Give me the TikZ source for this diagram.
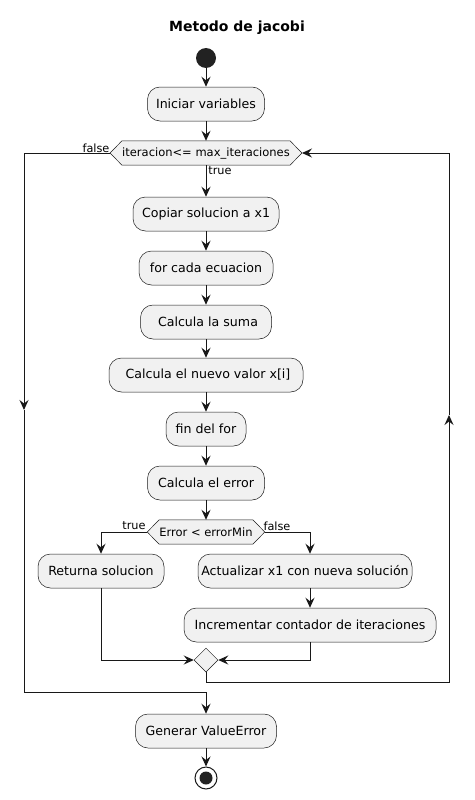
\documentclass[tikz,border=0pt]{standalone}
\usepackage{fontspec}
\setmainfont{DejaVu Sans}
\usetikzlibrary{arrows.meta,shapes.geometric}
\pgfdeclarelayer{bg}
\pgfsetlayers{bg,main}
\definecolor{boxfill}{HTML}{F1F1F1}
\definecolor{ink}{HTML}{181818}
\definecolor{dot}{HTML}{222222}
\begin{document}
\begin{tikzpicture}[x=1pt,y=-1pt,
 act/.style={draw=ink, line width=0.5pt, fill=boxfill, rounded corners=12.5pt, minimum height=34pt, inner sep=0pt, font=\fontsize{12.6}{14}\selectfont},
 dec/.style={inner sep=0pt, minimum height=24pt, font=\fontsize{11.5}{13}\selectfont},
 hex/.style={draw=ink, line width=0.5pt, fill=boxfill},
 flow/.style={draw=ink, line width=1pt, -{Stealth[length=10pt,width=9pt,inset=3.5pt]}},
 lbl/.style={font=\fontsize{11.3}{13}\selectfont, inner sep=0pt}]
\useasboundingbox (0,0) rectangle (474,800);
\node[font=\bfseries\fontsize{14}{16}\selectfont] (title) at (237,28) {Metodo de jacobi};
\node[circle, fill=dot, minimum size=20pt, inner sep=0pt] (start) at (206,58) {};
\node[act, minimum width=117pt] (init) at (206,104) {Iniciar variables};
\node[dec, minimum width=164pt] (loopd) at (206,153) {iteracion<= max\_iteraciones};
\node[act, minimum width=146pt] (copy) at (206,214) {Copiar solucion a x1};
\node[act, minimum width=134pt] (forc) at (206,268) {for cada ecuacion};
\node[act, minimum width=131pt] (suma) at (206,322) {\ Calcula la suma};
\node[act, minimum width=194pt] (nuevo) at (206,375) {\ Calcula el nuevo valor x[i]};
\node[act, minimum width=80pt] (fin) at (206,429) {fin del for};
\node[act, minimum width=117pt] (err) at (206,483) {Calcula el error};
\node[dec, minimum width=93pt] (errd) at (206,532) {Error < errorMin};
\node[act, minimum width=126pt] (ret) at (101,571) {Returna solucion};
\node[act, minimum width=214pt] (actu) at (305,571) {Actualizar x1 con nueva solución};
\node[act, minimum width=252pt] (inc) at (310,625) {Incrementar contador de iteraciones};
\node[diamond, draw=ink, line width=0.5pt, fill=boxfill, minimum width=24pt, minimum height=24pt, inner sep=0pt] (merge) at (206,660) {};
\node[act, minimum width=141pt] (gen) at (206,731) {Generar ValueError};
\node[circle, draw=ink, line width=1pt, fill=white, minimum size=22pt, inner sep=0pt] (stop) at (206,778) {};
\node[circle, fill=dot, minimum size=13pt, inner sep=0pt] (stopin) at (206,778) {};
\coordinate (loopL) at ([xshift=-12pt]loopd.west);
\coordinate (loopR) at ([xshift=12pt]loopd.east);
\coordinate (errL) at ([xshift=-12pt]errd.west);
\coordinate (errR) at ([xshift=12pt]errd.east);
\coordinate (lmid) at (24,410);
\coordinate (rmid) at (449,415);
\coordinate (lbot) at (24,692);
\coordinate (rbot) at (449,682);
\begin{pgfonlayer}{bg}
\draw[hex] (loopL) -- (loopd.north west) -- (loopd.north east) -- (loopR) -- (loopd.south east) -- (loopd.south west) -- cycle;
\draw[hex] (errL) -- (errd.north west) -- (errd.north east) -- (errR) -- (errd.south east) -- (errd.south west) -- cycle;
\end{pgfonlayer}
\draw[flow] (start) -- (init);
\draw[flow] (init) -- (loopd.north);
\draw[flow] (loopd.south) -- (copy);
\draw[flow] (copy) -- (forc);
\draw[flow] (forc) -- (suma);
\draw[flow] (suma) -- (nuevo);
\draw[flow] (nuevo) -- (fin);
\draw[flow] (fin) -- (err);
\draw[flow] (err) -- (errd.north);
\draw[flow] (errL) -| (ret.north);
\draw[flow] (errR) -| (actu.north -| inc.north);
\draw[flow] (actu.south -| inc.north) -- (inc.north);
\draw[flow] (ret.south) |- (merge.west);
\draw[flow] (inc.south) |- (merge.east);
\draw[flow] (merge.south) |- (rbot) -- (rmid);
\draw[flow] (rmid) |- (loopR);
\draw[flow] (loopL) -| (lmid);
\draw[flow] (lmid) |- (gen.north |- lbot) -- (gen.north);
\draw[flow] (gen) -- (stop);
\node[lbl] (lf) at (96,148) {false};
\node[lbl] (lt) at (220,171) {true};
\node[lbl] (et) at (134,526) {true};
\node[lbl] (ef) at (277,526) {false};
\end{tikzpicture}
\end{document}
